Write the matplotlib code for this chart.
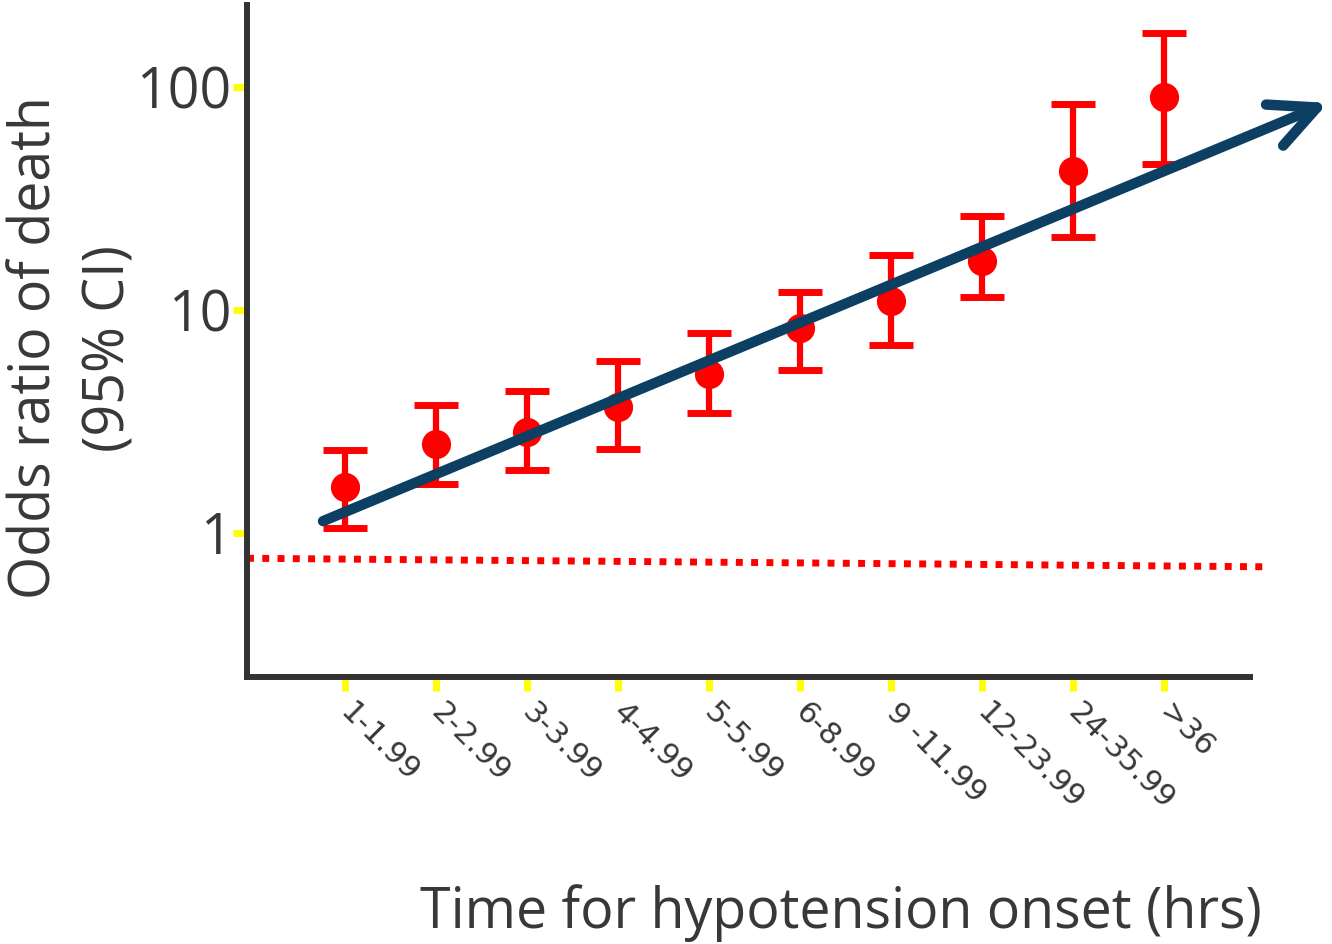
import matplotlib
matplotlib.use("Agg")
import matplotlib.pyplot as plt
import numpy as np

categories = ["1-1.99", "2-2.99", "3-3.99", "4-4.99", "5-5.99", "6-8.99",
              "9 -11.99", "12-23.99", "24-35.99", ">36"]
odds_ratio = [1.61, 2.5, 2.84, 3.67, 5.16, 8.3, 11.0, 16.6, 42.0, 90.0]
ci_lower = [1.05, 1.66, 1.92, 2.38, 3.45, 5.38, 6.97, 11.4, 21.2, 45.0]
ci_upper = [2.36, 3.75, 4.33, 5.9, 7.9, 12.0, 17.6, 26.4, 84.0, 175.0]
y_ticks = [1, 10, 100]
y_tick_labels = ["1", "10", "100"]
trend_x = [-0.237, 10.80]
trend_y = [1.13, 84.8]
ref_x = [-1.072, 10.14]
ref_y = [0.77, 0.705]

TEXT = "#383838"
fig = plt.figure(figsize=(13.32, 9.44), dpi=100)
ax = fig.add_axes([247/1332, 1-677/944, (1250-247)/1332, (677-5)/944])

x = np.arange(len(categories))
yerr = [np.array(odds_ratio) - np.array(ci_lower), np.array(ci_upper) - np.array(odds_ratio)]

ax.set_yscale("log")
ax.set_ylim(0.226, 233)
ax.set_xlim(-1.072, 9.944)

ax.plot(ref_x, ref_y, color="#ff0000", lw=5, dashes=(1.0, 1.2), clip_on=False, zorder=2)

ax.errorbar(x, odds_ratio, yerr=yerr, fmt="o", color="#ff0000", ms=20,
            elinewidth=4.5, capsize=16, capthick=5, zorder=3)

ax.annotate("", xy=(trend_x[1], trend_y[1]), xytext=(trend_x[0], trend_y[0]),
            xycoords="data", textcoords="data", annotation_clip=False,
            arrowprops=dict(arrowstyle="->,head_length=3.3,head_width=1.6",
                            color="#0d3f63", lw=7.5, shrinkA=0, shrinkB=0,
                            capstyle="round", joinstyle="round"), zorder=4)

for s in ["top", "right"]:
    ax.spines[s].set_visible(False)
for s in ["left", "bottom"]:
    ax.spines[s].set_color("#333333")
    ax.spines[s].set_linewidth(4.3)

ax.set_yticks(y_ticks)
ax.set_yticklabels(y_tick_labels, fontfamily="Open Sans", fontsize=40, color=TEXT)
ax.yaxis.set_minor_locator(matplotlib.ticker.NullLocator())
ax.tick_params(axis="y", which="major", length=10, width=5, color="#ffff00", pad=1)

ax.set_xticks(x)
ax.set_xticklabels(categories, rotation=-45, rotation_mode="anchor", ha="left", va="center",
                   fontfamily="DejaVu Sans", fontsize=22, color=TEXT)
ax.tick_params(axis="x", which="major", length=10, width=5, color="#ffff00", pad=12)

fig.text(73/1332, 1-348/944, "Odds ratio of death\n(95% CI)", rotation=90,
         ha="center", va="center", fontfamily="Open Sans", fontsize=40,
         color=TEXT, linespacing=1.4, multialignment="center")
fig.text(1262/1332, 1-928/944, "Time for hypotension onset (hrs)", ha="right", va="baseline",
         fontfamily="Open Sans", fontsize=40, color=TEXT)

fig.savefig("out.png", dpi=100, facecolor="white")
